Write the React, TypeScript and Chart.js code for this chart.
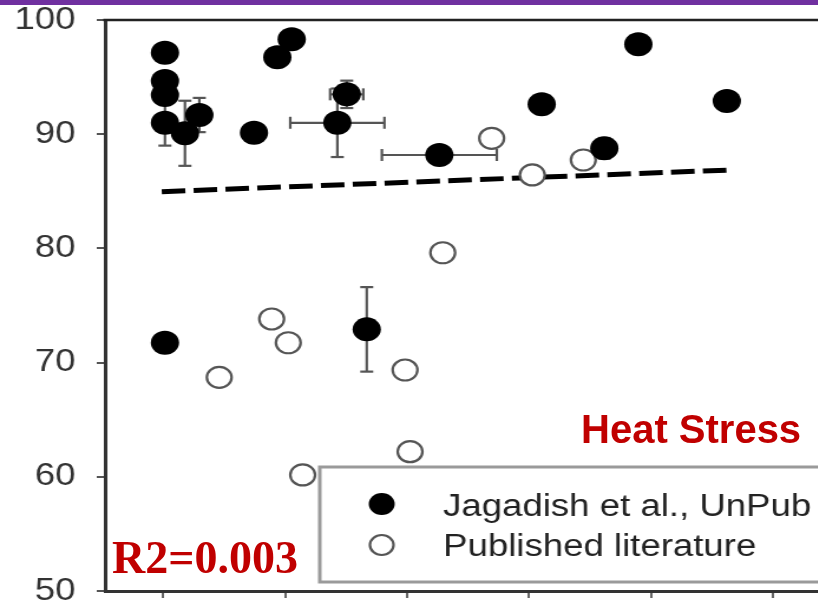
import { useEffect, useRef } from "react";
import { Chart, registerables } from "chart.js";

Chart.register(...registerables);

// Jagadish et al. (unpublished) observations, with optional error bars
const jagX = [1.016, 1.016, 1.016, 1.016, 1.18, 1.298, 1.746, 1.937, 2.055, 2.506, 2.429, 3.265, 4.104, 4.896, 5.621, 4.617, 1.016, 2.67];
const jagY = [97.14, 94.66, 93.43, 91.0, 90.08, 91.68, 90.13, 96.73, 98.31, 93.49, 91.0, 88.18, 92.62, 97.87, 92.91, 88.77, 71.74, 72.91];
const jagYErr = [0, 0, 0, 2.0, 2.85, 1.5, 0, 0, 0, 1.2, 3.0, 0, 0, 0, 0, 0.9, 0, 3.7];
const jagXErr = [0, 0, 0, 0, 0, 0, 0, 0, 0, 0.136, 0.386, 0.471, 0, 0, 0, 0, 0, 0];

// Values collected from published literature
const pubX = [3.694, 4.027, 4.445, 1.891, 2.027, 1.461, 2.984, 3.293, 2.145, 3.025];
const pubY = [89.64, 86.43, 87.74, 73.82, 71.74, 68.71, 69.35, 79.62, 60.16, 62.2];

// Linear fit across all points
const trendX = [0.99, 5.66];
const trendY = [84.97, 86.87];

const xTicks = [1, 2, 3, 4, 5, 6];
const yTicks = [50, 60, 70, 80, 90, 100];

const seriesLabels = ["Jagadish et al., UnPub", "Published literature"];
const heatLabel = "Heat Stress";
const r2Label = "R2=0.003";

const STRETCH = 1.18;
const VIEW_W = 818;
const VIEW_H = 609;
const CANVAS_W = Math.ceil(VIEW_W / STRETCH);

const errorBarsPlugin = {
  id: "errorBars",
  beforeDatasetsDraw(chart: any) {
    const { ctx, scales } = chart;
    const x = scales.x;
    const y = scales.y;
    ctx.save();
    ctx.strokeStyle = "#555";
    ctx.lineWidth = 2.2;
    const seg = (x1: number, y1: number, x2: number, y2: number) => {
      ctx.beginPath();
      ctx.moveTo(x1, y1);
      ctx.lineTo(x2, y2);
      ctx.stroke();
    };
    jagX.forEach((xv, i) => {
      const yv = jagY[i];
      const px = x.getPixelForValue(xv);
      const py = y.getPixelForValue(yv);
      const ye = jagYErr[i];
      const xe = jagXErr[i];
      if (ye) {
        const t = y.getPixelForValue(yv + ye);
        const b = y.getPixelForValue(yv - ye);
        seg(px, t, px, b);
        seg(px - 5.5, t, px + 5.5, t);
        seg(px - 5.5, b, px + 5.5, b);
      }
      if (xe) {
        const l = x.getPixelForValue(xv - xe);
        const r = x.getPixelForValue(xv + xe);
        seg(l, py, r, py);
        seg(l, py - 6, l, py + 6);
        seg(r, py - 6, r, py + 6);
      }
    });
    ctx.restore();
  },
};

// Top frame line and the boxed legend inside the plot
const frameLegendPlugin = {
  id: "frameLegend",
  afterDraw(chart: any) {
    const { ctx, chartArea } = chart;
    ctx.save();
    ctx.strokeStyle = "#222";
    ctx.lineWidth = 2.5;
    ctx.beginPath();
    ctx.moveTo(chartArea.left - 1.5, chartArea.top);
    ctx.lineTo(chart.width + 5, chartArea.top);
    ctx.stroke();

    const left = 271;
    const top = 467;
    const bottom = 582;
    const right = chart.width + 10;
    ctx.fillStyle = "#ffffff";
    ctx.fillRect(left, top, right - left, bottom - top);
    ctx.strokeStyle = "#9a9a9a";
    ctx.lineWidth = 3;
    ctx.strokeRect(left, top, right - left, bottom - top);

    const symX = 323.5;
    const textX = 375.5;
    ctx.beginPath();
    ctx.arc(symX, 504, 11, 0, Math.PI * 2);
    ctx.fillStyle = "#000";
    ctx.fill();
    ctx.beginPath();
    ctx.arc(symX, 545, 10, 0, Math.PI * 2);
    ctx.fillStyle = "#fff";
    ctx.fill();
    ctx.lineWidth = 2.2;
    ctx.strokeStyle = "#555";
    ctx.stroke();

    ctx.fillStyle = "#222";
    ctx.font = '31px "Liberation Sans", Arial, sans-serif';
    ctx.textAlign = "left";
    ctx.textBaseline = "alphabetic";
    ctx.fillText(chart.data.datasets[0].label, textX, 516);
    ctx.fillText(chart.data.datasets[1].label, textX, 556);
    ctx.restore();
  },
};

export default function App() {
  const canvasRef = useRef<HTMLCanvasElement | null>(null);

  useEffect(() => {
    const canvas = canvasRef.current;
    if (!canvas) return;
    const chart = new Chart(canvas, {
      type: "scatter",
      data: {
        datasets: [
          {
            label: seriesLabels[0],
            data: jagX.map((x, i) => ({ x, y: jagY[i] })),
            backgroundColor: "#000",
            borderColor: "#000",
            borderWidth: 0,
            pointRadius: 12,
            order: 0,
          },
          {
            label: seriesLabels[1],
            data: pubX.map((x, i) => ({ x, y: pubY[i] })),
            backgroundColor: "#fff",
            borderColor: "#555",
            borderWidth: 2.2,
            pointRadius: 10.5,
            order: 1,
          },
          {
            type: "line",
            label: "fit",
            data: trendX.map((x, i) => ({ x, y: trendY[i] })),
            borderColor: "#000",
            borderWidth: 5,
            borderDash: [20, 7],
            pointRadius: 0,
            fill: false,
            order: 2,
          } as any,
        ],
      },
      options: {
        responsive: false,
        animation: false,
        devicePixelRatio: 1,
        layout: { autoPadding: false, padding: { top: 20, bottom: 11, left: 0, right: 0 } },
        plugins: {
          legend: { display: false },
          tooltip: { enabled: false },
        },
        scales: {
          x: {
            type: "linear",
            position: "bottom",
            min: 0.525,
            max: 6.376,
            afterBuildTicks: (scale: any) => {
              scale.ticks = xTicks.map((v) => ({ value: v }));
            },
            afterFit: (scale: any) => {
              scale.height = 7;
              scale.paddingLeft = 0;
              scale.paddingRight = 0;
            },
            ticks: { display: false },
            grid: {
              drawOnChartArea: false,
              drawTicks: true,
              tickLength: 7,
              color: "#666",
              lineWidth: 2,
            },
            border: { display: true, color: "#333", width: 3 },
          },
          y: {
            type: "linear",
            min: 50,
            max: 100,
            afterBuildTicks: (scale: any) => {
              scale.ticks = yTicks.map((v) => ({ value: v }));
            },
            afterFit: (scale: any) => {
              scale.width = 89;
              scale.paddingTop = 0;
              scale.paddingBottom = 0;
            },
            ticks: {
              padding: 18,
              color: "#333",
              font: { family: '"Liberation Sans", Arial, sans-serif', size: 31 },
            },
            grid: {
              drawOnChartArea: false,
              drawTicks: true,
              tickLength: 7,
              color: "#555",
              lineWidth: 2,
            },
            border: { display: true, color: "#333", width: 3 },
          },
        },
      },
      plugins: [errorBarsPlugin, frameLegendPlugin],
    });
    return () => chart.destroy();
  }, []);

  return (
    <div
      style={{
        position: "fixed",
        left: 0,
        top: 0,
        width: VIEW_W,
        height: VIEW_H,
        overflow: "hidden",
        background: "#fff",
      }}
    >
      <div
        style={{
          position: "absolute",
          left: 0,
          top: 0,
          width: CANVAS_W,
          height: VIEW_H,
          transform: `scaleX(${STRETCH})`,
          transformOrigin: "0 0",
        }}
      >
        <canvas
          ref={canvasRef}
          width={CANVAS_W}
          height={VIEW_H}
          style={{ display: "block", width: CANVAS_W, height: VIEW_H }}
        />
      </div>
      <div
        style={{
          position: "absolute",
          left: 0,
          top: 0,
          width: VIEW_W,
          height: 5,
          background: "#7030A0",
        }}
      />
      <div
        style={{
          position: "absolute",
          left: 581,
          top: 409,
          fontFamily: '"Liberation Sans", Arial, sans-serif',
          fontWeight: "bold",
          fontSize: 40,
          lineHeight: 1,
          color: "#C00000",
          whiteSpace: "nowrap",
        }}
      >
        {heatLabel}
      </div>
      <div
        style={{
          position: "absolute",
          left: 112,
          top: 535,
          fontFamily: '"Liberation Serif", "Times New Roman", serif',
          fontWeight: "bold",
          fontSize: 46,
          lineHeight: 1,
          color: "#C00000",
          whiteSpace: "nowrap",
        }}
      >
        {r2Label}
      </div>
    </div>
  );
}
